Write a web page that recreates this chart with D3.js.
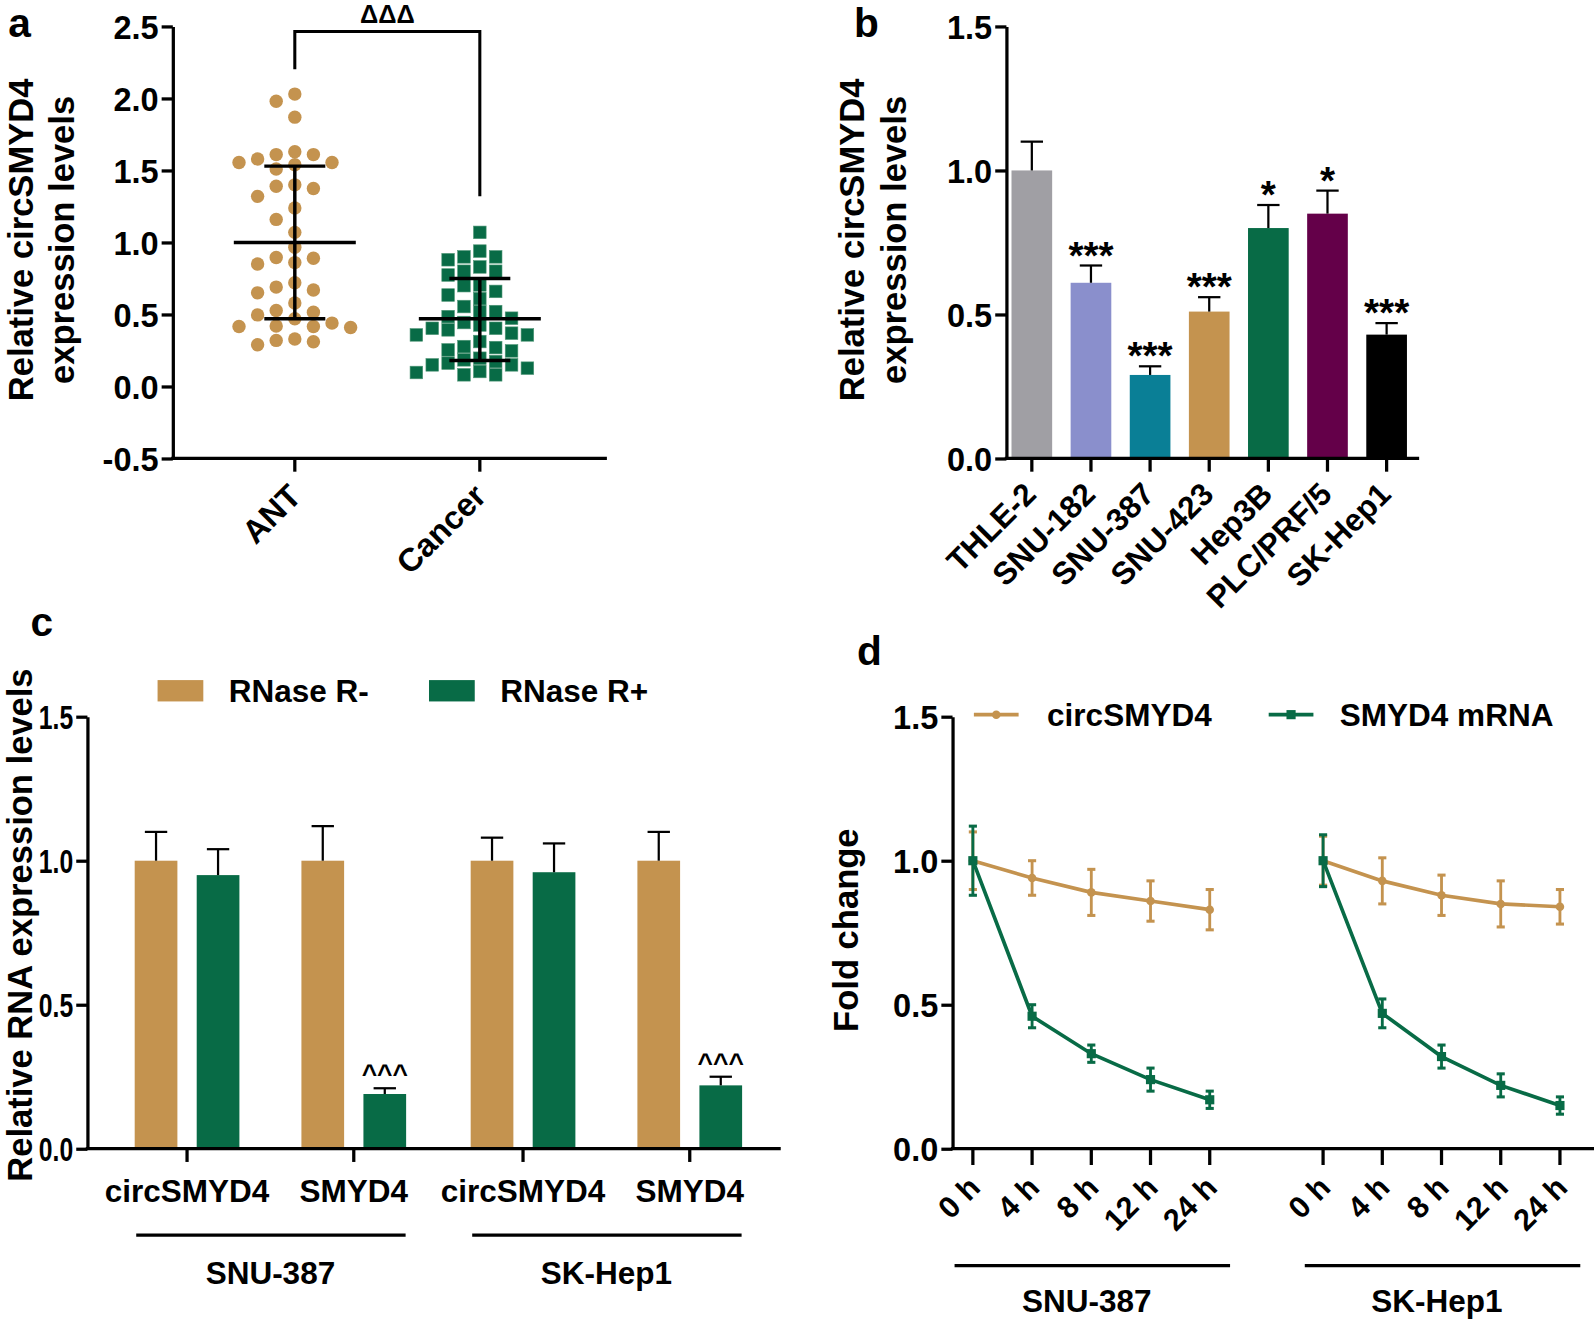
<!DOCTYPE html>
<html><head><meta charset="utf-8">
<script src="https://cdn.jsdelivr.net/npm/d3@7"></script>
<style>
body{margin:0;background:#fff}
svg{display:block}
text{font-family:"Liberation Sans",Arial,Helvetica,sans-serif;font-weight:bold;fill:#000}
</style>
</head><body>
<svg id="fig" width="1594" height="1320"></svg>
<script>
// ---------------- DATA ----------------
// Panel a: individual relative expression values
const antValues = [2.03,1.98,1.87,1.63,1.61,1.58,1.61,1.555,1.555,1.54,1.51,1.39,1.375,1.40,1.32,1.24,1.16,1.07,0.966,0.896,0.89,0.86,0.85,0.72,0.67,0.69,0.65,0.58,0.515,0.527,0.497,0.47,0.44,0.42,0.416,0.416,0.41,0.31,0.32,0.33,0.29];
const cancerValues = [1.07,0.94,0.90,0.90,0.88,0.83,0.80,0.774,0.80,0.705,0.70,0.66,0.635,0.61,0.555,0.52,0.52,0.485,0.474,0.444,0.404,0.393,0.404,0.427,0.358,0.358,0.37,0.27,0.254,0.277,0.247,0.312,0.196,0.162,0.127,0.15,0.173,0.15,0.185,0.097,0.081,0.081,0.104];
const groupsA = ["ANT","Cancer"];
const meanA = [1.0, 0.47];
const sdLowA = [0.47, 0.18];
const sdHighA = [1.53, 0.75];
const ticksA = [-0.5,0.0,0.5,1.0,1.5,2.0,2.5];
const sigA = "ΔΔΔ";

// Panel b
const cellLines = ["THLE-2","SNU-182","SNU-387","SNU-423","Hep3B","PLC/PRF/5","SK-Hep1"];
const cellValues = [1.00,0.61,0.29,0.51,0.80,0.85,0.43];
const cellErrors = [0.10,0.06,0.03,0.05,0.08,0.08,0.04];
const cellSig = ["","***","***","***","*","*","***"];
const ticksB = [0.0,0.5,1.0,1.5];

// Panel c
const genesC = ["circSMYD4","SMYD4"];
const linesC = ["SNU-387","SK-Hep1"];
const treatments = ["RNase R-","RNase R+"];
const rnaseMinus = [1.00,1.00,1.00,1.00];
const rnaseMinusErr = [0.10,0.12,0.08,0.10];
const rnasePlus = [0.95,0.19,0.96,0.22];
const rnasePlusErr = [0.09,0.02,0.10,0.03];
const sigC = ["","^^^","","^^^"];
const ticksC = [0.0,0.5,1.0,1.5];

// Panel d
const times = ["0 h","4 h","8 h","12 h","24 h"];
const linesD = ["SNU-387","SK-Hep1"];
const seriesD = ["circSMYD4","SMYD4 mRNA"];
const circSNU = [1.00,0.94,0.89,0.86,0.83];
const circSNUErr = [0.10,0.06,0.08,0.07,0.07];
const circSK = [1.00,0.93,0.88,0.85,0.84];
const circSKErr = [0.085,0.08,0.07,0.08,0.06];
const mrnaSNU = [1.00,0.46,0.33,0.24,0.17];
const mrnaSNUErr = [0.12,0.04,0.03,0.04,0.03];
const mrnaSK = [1.00,0.47,0.32,0.22,0.15];
const mrnaSKErr = [0.09,0.05,0.04,0.04,0.03];
const ticksD = [0.0,0.5,1.0,1.5];

// ---------------- STYLE ----------------
const TAN = "#C4934F", GREEN = "#086B46";
const cellColors = ["#A09FA4","#8A8FCC","#0A7F96","#C4934F","#086B46","#640049","#000000"];
const AXW = 3.2;
const TICKFS = 32, TITLEFS = 34;

const svg = d3.select("#fig");
const root = svg.append("g").attr("transform", `scale(${1594/1568})`);
const fmt = d => d.toFixed(1);

function yAxis(g, scale, x, ticks, fs, squeeze) {
  const ax = g.append("g").attr("transform", `translate(${x},0)`)
    .call(d3.axisLeft(scale).tickValues(ticks).tickFormat(fmt).tickSize(11).tickSizeOuter(0).tickPadding(3));
  ax.select(".domain").attr("stroke-width", AXW).attr("stroke","#000");
  ax.selectAll(".tick line").attr("stroke-width", AXW).attr("stroke","#000");
  ax.selectAll(".tick text").attr("font-size", fs).attr("fill","#000").attr("dy","0.36em")
    .style("font-family",'"Liberation Sans",Arial,sans-serif').style("font-weight","bold");
  if (squeeze) ax.selectAll(".tick text").each(function(){
    const w = this.getComputedTextLength();
    d3.select(this).attr("textLength", w*squeeze).attr("lengthAdjust","spacingAndGlyphs");
  });
  return ax;
}
function hLine(g, x1, x2, y, w, c) {
  return g.append("line").attr("x1",x1).attr("x2",x2).attr("y1",y).attr("y2",y)
    .attr("stroke",c||"#000").attr("stroke-width",w||AXW);
}
function vLine(g, x, y1, y2, w, c) {
  return g.append("line").attr("x1",x).attr("x2",x).attr("y1",y1).attr("y2",y2)
    .attr("stroke",c||"#000").attr("stroke-width",w||AXW);
}
function panelLetter(t, x, y) {
  root.append("text").attr("x",x).attr("y",y).attr("font-size",40).text(t);
}

// ================= PANEL A =================
(function(){
  const g = root.append("g");
  const y = d3.scaleLinear().domain([-0.5,2.5]).range([451,26]);
  const x = d3.scalePoint().domain(groupsA).range([290,472]);
  panelLetter("a", 8, 36);
  yAxis(g, y, 170, ticksA, TICKFS);
  hLine(g, 168.4, 597, 451);
  groupsA.forEach(k => vLine(g, x(k), 451, 464));
  groupsA.forEach(k => {
    const tx = x(k)+8, ty = 490;
    g.append("text").attr("x",tx).attr("y",ty).attr("text-anchor","end")
      .attr("font-size",32).attr("transform",`rotate(-45,${tx},${ty})`).text(k);
  });
  const ty = 236;
  g.append("text").attr("transform",`translate(32,${ty}) rotate(-90)`).attr("text-anchor","middle")
    .attr("font-size",TITLEFS).text("Relative circSMYD4");
  g.append("text").attr("transform",`translate(73,${ty}) rotate(-90)`).attr("text-anchor","middle")
    .attr("font-size",TITLEFS).text("expression levels");

  // swarm layout (greedy, by value)
  function swarm(values, minDy, maxSlot) {
    const placed = [], res = new Array(values.length);
    const order = values.map((v,i)=>i).sort((a,b)=>values[b]-values[a]);
    const cands = [0]; for (let k=1;k<=maxSlot;k++) cands.push(-k,k);
    for (const i of order) {
      const py = y(values[i]);
      let s = cands.find(c => !placed.some(p => p.slot===c && Math.abs(p.py-py) < minDy));
      if (s===undefined) s = 0;
      placed.push({slot:s, py}); res[i] = s;
    }
    return res;
  }
  const antSlots = swarm(antValues, 12.5, 3);
  const canSlots = swarm(cancerValues, 12.5, 4);
  g.selectAll("circle.ant").data(antValues).join("circle")
    .attr("cx",(d,i)=>x("ANT")+antSlots[i]*18.3).attr("cy",d=>y(d)).attr("r",6.6).attr("fill",TAN);
  g.selectAll("rect.can").data(cancerValues).join("rect")
    .attr("x",(d,i)=>x("Cancer")+canSlots[i]*15.6-6.2).attr("y",d=>y(d)-6.2)
    .attr("width",12.4).attr("height",12.4).attr("fill",GREEN)
    .attr("stroke","#4f9676").attr("stroke-width",0.6);
  groupsA.forEach((k,i) => {
    const cx = x(k);
    hLine(g, cx-60, cx+60, y(meanA[i]), 3.4);
    vLine(g, cx, y(sdHighA[i]), y(sdLowA[i]), 3.4);
    hLine(g, cx-30, cx+30, y(sdHighA[i]), 3.4);
    hLine(g, cx-30, cx+30, y(sdLowA[i]), 3.4);
  });
  g.append("path").attr("d",`M${x("ANT")},68V31H${x("Cancer")}V193`).attr("fill","none")
    .attr("stroke","#000").attr("stroke-width",3);
  g.append("text").attr("x",(x("ANT")+x("Cancer"))/2).attr("y",23).attr("text-anchor","middle")
    .attr("font-size",25).text(sigA);
})();

// ================= PANEL B =================
(function(){
  const g = root.append("g");
  const y = d3.scaleLinear().domain([0,1.5]).range([451,26]);
  const x = d3.scalePoint().domain(cellLines).range([1015,1364]);
  const bw = 40;
  panelLetter("b", 840, 36);
  g.selectAll("rect.bar").data(cellValues).join("rect")
    .attr("x",(d,i)=>x(cellLines[i])-bw/2).attr("y",d=>y(d))
    .attr("width",bw).attr("height",d=>y(0)-y(d)).attr("fill",(d,i)=>cellColors[i]);
  cellValues.forEach((v,i) => {
    const cx = x(cellLines[i]), top = y(v+cellErrors[i]);
    vLine(g, cx, y(v), top, 2.2);
    hLine(g, cx-11, cx+11, top, 2.2);
    if (cellSig[i]) g.append("text").attr("x",cx).attr("y",top+3).attr("text-anchor","middle")
      .attr("font-size",38).text(cellSig[i]);
  });
  yAxis(g, y, 990, ticksB, TICKFS);
  hLine(g, 988.4, 1396, 451);
  cellLines.forEach(k => vLine(g, x(k), 451, 464));
  cellLines.forEach(k => {
    const tx = x(k)+6, ty = 488;
    g.append("text").attr("x",tx).attr("y",ty).attr("text-anchor","end")
      .attr("font-size",31).attr("transform",`rotate(-45,${tx},${ty})`).text(k);
  });
  const ty = 236;
  g.append("text").attr("transform",`translate(850,${ty}) rotate(-90)`).attr("text-anchor","middle")
    .attr("font-size",TITLEFS).text("Relative circSMYD4");
  g.append("text").attr("transform",`translate(891,${ty}) rotate(-90)`).attr("text-anchor","middle")
    .attr("font-size",TITLEFS).text("expression levels");
})();

// ================= PANEL C =================
(function(){
  const g = root.append("g");
  const y = d3.scaleLinear().domain([0,1.5]).range([1130,705]);
  const xg = d3.scalePoint().domain(linesC).range([266,596.5]);
  const xi = d3.scalePoint().domain(genesC).range([-82,82]);
  const xt = d3.scalePoint().domain(treatments).range([-30.5,30.5]);
  const bw = 42;
  panelLetter("c", 30, 626);
  const pos = [];
  linesC.forEach(l => genesC.forEach(gn => pos.push(xg(l)+xi(gn))));
  const sets = [[rnaseMinus,rnaseMinusErr,TAN],[rnasePlus,rnasePlusErr,GREEN]];
  sets.forEach((s,j) => {
    const off = xt(treatments[j]);
    s[0].forEach((v,i) => {
      const cx = pos[i]+off, top = y(v+s[1][i]);
      g.append("rect").attr("x",cx-bw/2).attr("y",y(v)).attr("width",bw).attr("height",y(0)-y(v)).attr("fill",s[2]);
      vLine(g, cx, y(v), top, 2.2);
      hLine(g, cx-11, cx+11, top, 2.2);
      if (j===1 && sigC[i]) g.append("text").attr("x",cx).attr("y",top-5).attr("text-anchor","middle")
        .attr("font-size",26).text(sigC[i]);
    });
  });
  yAxis(g, y, 86, ticksC, TICKFS, 0.76);
  hLine(g, 84.4, 768, 1130);
  pos.forEach((p,i) => {
    vLine(g, p, 1130, 1143);
    g.append("text").attr("x",p).attr("y",1182).attr("text-anchor","middle").attr("font-size",31)
      .text(genesC[i%2]);
  });
  linesC.forEach(l => {
    hLine(g, xg(l)-132, xg(l)+133, 1215, 3.4);
    g.append("text").attr("x",xg(l)).attr("y",1263).attr("text-anchor","middle").attr("font-size",31).text(l);
  });
  const lx = [155,422];
  treatments.forEach((t,j) => {
    g.append("rect").attr("x",lx[j]).attr("y",669).attr("width",45).attr("height",21).attr("fill",j?GREEN:TAN);
    g.append("text").attr("x",lx[j]+70).attr("y",691).attr("font-size",31).text(t);
  });
  g.append("text").attr("transform",`translate(31,910) rotate(-90)`).attr("text-anchor","middle")
    .attr("font-size",TITLEFS).text("Relative RNA expression levels");
})();

// ================= PANEL D =================
(function(){
  const g = root.append("g");
  const y = d3.scaleLinear().domain([0,1.5]).range([1130,705]);
  const xg = d3.scalePoint().domain(linesD).range([1073,1417.5]);
  const xt = d3.scalePoint().domain(times).range([-116,117]);
  panelLetter("d", 843, 654);
  const series = [
    {name:seriesD[0], color:TAN, shape:"circle", data:[[circSNU,circSNUErr],[circSK,circSKErr]]},
    {name:seriesD[1], color:GREEN, shape:"square", data:[[mrnaSNU,mrnaSNUErr],[mrnaSK,mrnaSKErr]]}
  ];
  function marker(sel, shape, cx, cy, color) {
    if (shape==="circle") sel.append("circle").attr("cx",cx).attr("cy",cy).attr("r",4.2).attr("fill",color);
    else sel.append("rect").attr("x",cx-4.5).attr("y",cy-4.5).attr("width",9).attr("height",9).attr("fill",color);
  }
  series.forEach(s => {
    linesD.forEach((l,li) => {
      const vals = s.data[li][0], errs = s.data[li][1];
      const line = d3.line().x((d,i)=>xg(l)+xt(times[i])).y(d=>y(d));
      g.append("path").attr("d",line(vals)).attr("fill","none").attr("stroke",s.color).attr("stroke-width",3.6);
      vals.forEach((v,i) => {
        const cx = xg(l)+xt(times[i]);
        vLine(g, cx, y(v+errs[i]), y(v-errs[i]), 2.8, s.color);
        hLine(g, cx-4, cx+4, y(v+errs[i]), 3, s.color);
        hLine(g, cx-4, cx+4, y(v-errs[i]), 3, s.color);
        marker(g, s.shape, cx, y(v), s.color);
      });
    });
  });
  yAxis(g, y, 937, ticksD, TICKFS);
  hLine(g, 935.4, 1568, 1130);
  linesD.forEach(l => times.forEach(t => {
    const cx = xg(l)+xt(t);
    vLine(g, cx, 1130, 1146);
    const tx = cx+9, ty = 1170;
    g.append("text").attr("x",tx).attr("y",ty).attr("text-anchor","end")
      .attr("font-size",30).attr("transform",`rotate(-45,${tx},${ty})`).text(t);
  }));
  linesD.forEach(l => {
    hLine(g, xg(l)-134, xg(l)+137, 1245, 3.4);
    g.append("text").attr("x",xg(l)-4).attr("y",1291).attr("text-anchor","middle").attr("font-size",31).text(l);
  });
  const lx = [958,1248], tx = [1030,1318];
  series.forEach((s,j) => {
    hLine(g, lx[j], lx[j]+44, 703, 3.6, s.color);
    marker(g, s.shape, lx[j]+22, 703, s.color);
    g.append("text").attr("x",tx[j]).attr("y",714).attr("font-size",31).text(s.name);
  });
  g.append("text").attr("transform",`translate(844,915) rotate(-90)`).attr("text-anchor","middle")
    .attr("font-size",TITLEFS).text("Fold change");
})();
</script>
</body></html>
